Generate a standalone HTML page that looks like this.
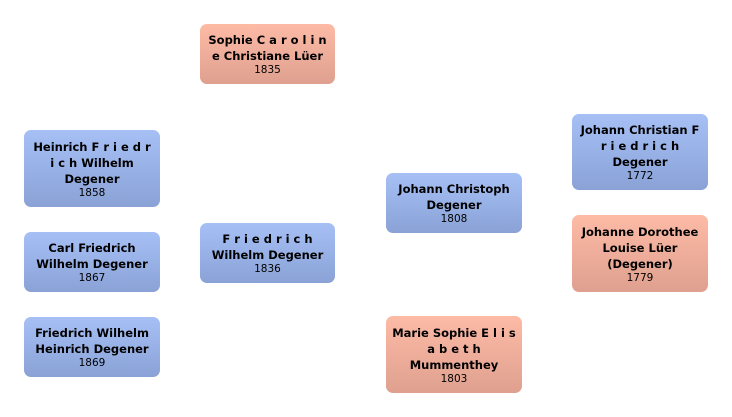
<!DOCTYPE html>
<html><head><meta charset="utf-8"><style>
body{margin:0;width:732px;height:417px;background:#fff;position:relative;font-family:"DejaVu Sans","Liberation Sans",sans-serif;overflow:hidden}
.b{position:absolute;border-radius:7px;display:flex;flex-direction:column;justify-content:center;align-items:center;text-align:center;color:#000;box-sizing:border-box;padding:0 4px}
.m{background:linear-gradient(#a6c0f6,#8aa2d6)}
.f{background:linear-gradient(#fdbba6,#dfa08f)}
.n{font-weight:bold;font-size:11.5px;line-height:16px;white-space:pre}
.y{font-size:10.5px;line-height:12px}
</style></head><body>
<div class="b f" style="left:200px;top:24px;width:135px;height:60px"><div class="n">Sophie C a r o l i n
e Christiane Lüer</div><div class="y">1835</div></div>
<div class="b m" style="left:24px;top:130px;width:136px;height:77px"><div class="n">Heinrich F r i e d r
i c h Wilhelm
Degener</div><div class="y">1858</div></div>
<div class="b m" style="left:24px;top:232px;width:136px;height:60px"><div class="n">Carl Friedrich
Wilhelm Degener</div><div class="y">1867</div></div>
<div class="b m" style="left:24px;top:317px;width:136px;height:60px"><div class="n">Friedrich Wilhelm
Heinrich Degener</div><div class="y">1869</div></div>
<div class="b m" style="left:200px;top:223px;width:135px;height:60px"><div class="n">F r i e d r i c h
Wilhelm Degener</div><div class="y">1836</div></div>
<div class="b m" style="left:386px;top:173px;width:136px;height:60px"><div class="n">Johann Christoph
Degener</div><div class="y">1808</div></div>
<div class="b f" style="left:386px;top:316px;width:136px;height:77px"><div class="n">Marie Sophie E l i s
a b e t h
Mummenthey</div><div class="y">1803</div></div>
<div class="b m" style="left:572px;top:114px;width:136px;height:76px"><div class="n">Johann Christian F
r i e d r i c h
Degener</div><div class="y">1772</div></div>
<div class="b f" style="left:572px;top:215px;width:136px;height:77px"><div class="n">Johanne Dorothee
Louise Lüer
(Degener)</div><div class="y">1779</div></div>
</body></html>
